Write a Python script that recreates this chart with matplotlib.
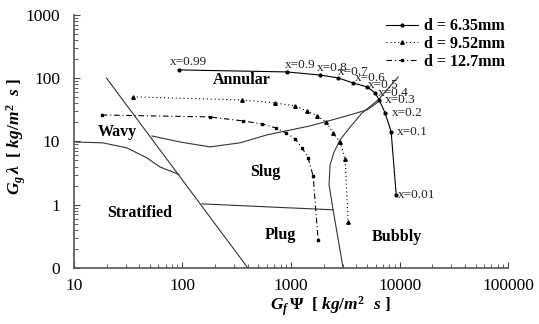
import numpy as np
import matplotlib.pyplot as plt

plt.rcParams['font.family'] = ['Liberation Serif', 'DejaVu Serif']
plt.rcParams['mathtext.fontset'] = 'custom'
plt.rcParams['mathtext.it'] = 'Liberation Serif:italic:bold'
plt.rcParams['mathtext.rm'] = 'Liberation Serif:bold'
plt.rcParams['mathtext.bf'] = 'Liberation Serif:bold'

# flow pattern boundaries
strat_x = [20, 400]
strat_y = [100, 0.1]
wavy_x = [10, 18.5, 30.8, 47, 62, 93]
wavy_y = [9.8, 9.5, 7.9, 5.5, 3.95, 3.0]
annular_x = [52.4, 94.8, 179, 339, 601, 1496, 3013, 5012, 6337]
annular_y = [12.2, 9.8, 8.2, 9.5, 12.7, 17.6, 24.4, 31.5, 42]
plug_x = [151, 640, 2438, 3013]
plug_y = [1.03, 0.92, 0.83, 0.1]
bubbly_x = [2438, 2239, 2286, 2489, 2830, 3499, 4510, 6337, 9685]
bubbly_y = [0.83, 2.05, 4.25, 6.8, 10.6, 16.9, 28.2, 45.3, 104.7]

# measured data
d635_x = [92.9, 918, 1849, 2710, 3724, 5012, 5940, 6470, 7350, 8350, 9290]
d635_y = [135, 125.5, 112, 101, 84, 72.8, 58.5, 45.3, 28.2, 14.1, 1.43]
d635_q = ['x=0.99', 'x=0.9', 'x=0.8', 'x=0.7', 'x=0.6', 'x=0.5', 'x=0.4',
          'x=0.3', 'x=0.2', 'x=0.1', 'x=0.01']
d952_x = [35, 353, 712, 1089, 1404, 1736, 2102, 2438, 2830, 3147, 3352]
d952_y = [50.6, 45.3, 40.6, 36.4, 30.3, 25.3, 20.3, 13.6, 9.8, 5.3, 0.53]
d127_x = [18.1, 179, 361, 541, 728, 900, 1089, 1263, 1435, 1596, 1774]
d127_y = [26.2, 24.4, 21.1, 18.9, 16.3, 13.6, 11, 7.9, 5.5, 2.85, 0.28]

regions = ['Annular', 'Wavy', 'Slug', 'Stratified', 'Plug', 'Bubbly']
region_x = [191, 16.6, 419, 20.1, 576, 5585]
region_y = [94, 14.1, 3.3, 0.74, 0.33, 0.31]

fig = plt.figure(figsize=(5.39, 3.24), dpi=100)
ax = fig.add_axes([0.137, 0.173, 0.806, 0.781])

bc = '#333333'
for bx, by in [(strat_x, strat_y), (wavy_x, wavy_y), (annular_x, annular_y),
               (plug_x, plug_y), (bubbly_x, bubbly_y)]:
    ax.plot(bx, by, color=bc, lw=0.8)

ax.plot(d635_x, d635_y, '-', color='black', lw=0.8, marker='o', ms=2,
        label='d = 6.35mm')
ax.plot(d952_x, d952_y, color='black', lw=0.8, ls=(0, (1, 2.5)), marker='^',
        ms=2.5, label='d = 9.52mm')
ax.plot(d127_x, d127_y, color='black', lw=0.8, ls=(0, (5, 2.5, 1, 2.5)),
        marker='s', ms=2, label='d = 12.7mm')

# label offsets in points
offs = [(-6.5, 5.8), (-1.4, 5), (-2, 5), (0, 4.3), (1.4, 3.6), (0.7, 1.4),
        (2.2, 0), (4.3, 0), (5, 0), (4.3, 0), (1.4, 0)]
for qx, qy, q, (ox, oy) in zip(d635_x, d635_y, d635_q, offs):
    ax.annotate(q, (qx, qy), xytext=(ox, oy), textcoords='offset points',
                fontsize=9.5, color='#222222', ha='left', va='center')

for r, rx, ry in zip(regions, region_x, region_y):
    ax.text(rx, ry, r, fontsize=11.5, fontweight='bold', ha='left', va='center')

ax.set_xscale('log')
ax.set_yscale('log')
ax.set_xlim(10, 100000)
ax.set_ylim(0.1, 1000)
ax.set_xticks([10, 100, 1000, 10000, 100000])
ax.set_xticklabels(['10', '100', '1000', '10000', '100000'])
ax.set_yticks([0.1, 1, 10, 100, 1000])
ax.set_yticklabels(['0', '1', '10', '100', '1000'])
ax.tick_params(which='both', direction='in', labelsize=12.5, color='#444444')
ax.tick_params(which='major', length=4)
ax.tick_params(axis='y', which='major', pad=10)
ax.tick_params(axis='x', which='major', pad=7)
ax.tick_params(which='minor', length=3)
ax.spines['top'].set_visible(False)
ax.spines['right'].set_visible(False)
for s in ['left', 'bottom']:
    ax.spines[s].set_color('#555555')
    ax.spines[s].set_linewidth(1.2)

ax.set_xlabel(r'$G_f\,\Psi$  [ $kg/m^2$  $s$ ]', fontsize=12.5, fontweight='bold')
ax.xaxis.set_label_coords(0.59, -0.105)
ax.set_ylabel(r'$G_g\,\lambda$  [ $kg/m^2$  $s$ ]', fontsize=12.5, fontweight='bold')
ax.yaxis.set_label_coords(-0.105, 0.52)

leg = ax.legend(loc='upper right', bbox_to_anchor=(1.0, 1.0), frameon=False,
                borderaxespad=0, borderpad=0.2,
                handlelength=2, handletextpad=0.4, labelspacing=0.12,
                prop={'weight': 'bold', 'size': 11.5})

fig.savefig('out.png', dpi=100)
